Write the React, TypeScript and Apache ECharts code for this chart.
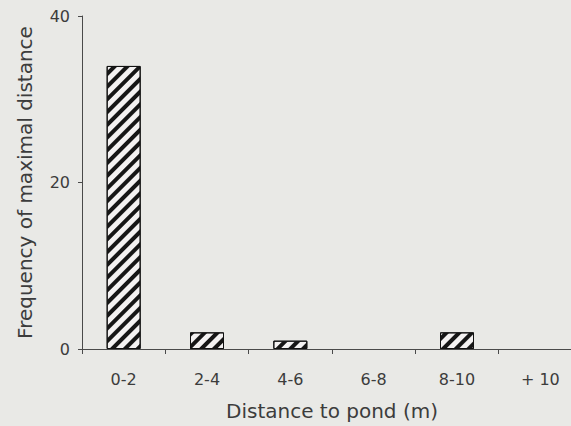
import React, { useEffect, useRef } from "react";
import * as echarts from "echarts";

const categories = ["0-2", "2-4", "4-6", "6-8", "8-10", "+ 10"];
const frequencies = [34, 2, 1, 0, 2, 0];
const yTicks = { min: 0, max: 40, interval: 20 };
const xTitle = "Distance to pond (m)";
const yTitle = "Frequency of maximal distance";

export default function App() {
  const ref = useRef<HTMLDivElement>(null);
  useEffect(() => {
    const chart = echarts.init(ref.current!, null, { renderer: "svg" });
    const font = "DejaVu Sans";
    const textColor = "#3c3c3c";
    const axisColor = "#4a4a4a";
    chart.setOption({
      animation: false,
      backgroundColor: "#e9e9e6",
      grid: { left: 82, top: 16, bottom: 77, right: 0 },
      xAxis: {
        type: "category",
        data: categories,
        name: xTitle,
        nameLocation: "middle",
        nameGap: 52,
        nameTextStyle: { fontFamily: font, fontSize: 20, color: textColor },
        axisLine: { lineStyle: { color: axisColor, width: 1 } },
        axisTick: { show: true, length: 5, lineStyle: { color: axisColor } },
        axisLabel: { fontFamily: font, fontSize: 16, color: textColor, margin: 22 },
      },
      yAxis: {
        type: "value",
        min: yTicks.min,
        max: yTicks.max,
        interval: yTicks.interval,
        name: yTitle,
        nameLocation: "middle",
        nameGap: 47,
        nameTextStyle: { fontFamily: font, fontSize: 20, color: textColor },
        axisLine: { show: true, lineStyle: { color: axisColor, width: 1 } },
        axisTick: { show: true, length: 4, lineStyle: { color: axisColor } },
        splitLine: { show: false },
        axisLabel: { fontFamily: font, fontSize: 16, color: textColor, margin: 12 },
      },
      series: [
        {
          type: "bar",
          data: frequencies.map((v) =>
            v === 0 ? { value: v, itemStyle: { borderWidth: 0, opacity: 0 } } : v
          ),
          barWidth: 34,
          itemStyle: {
            color: "#f4f2f2",
            borderColor: "#111",
            borderWidth: 1,
            decal: {
              symbol: "rect",
              symbolSize: 1,
              dashArrayX: [1, 0],
              dashArrayY: [3.5, 5],
              rotation: -Math.PI / 4,
              color: "#161616",
            },
          },
        },
      ],
    });
    return () => chart.dispose();
  }, []);
  return (
    <div
      style={{
        position: "absolute",
        left: 0,
        top: 0,
        width: 571,
        height: 426,
        overflow: "hidden",
        background: "#e9e9e6",
      }}
    >
      <div ref={ref} style={{ width: 582, height: 426 }} />
    </div>
  );
}
